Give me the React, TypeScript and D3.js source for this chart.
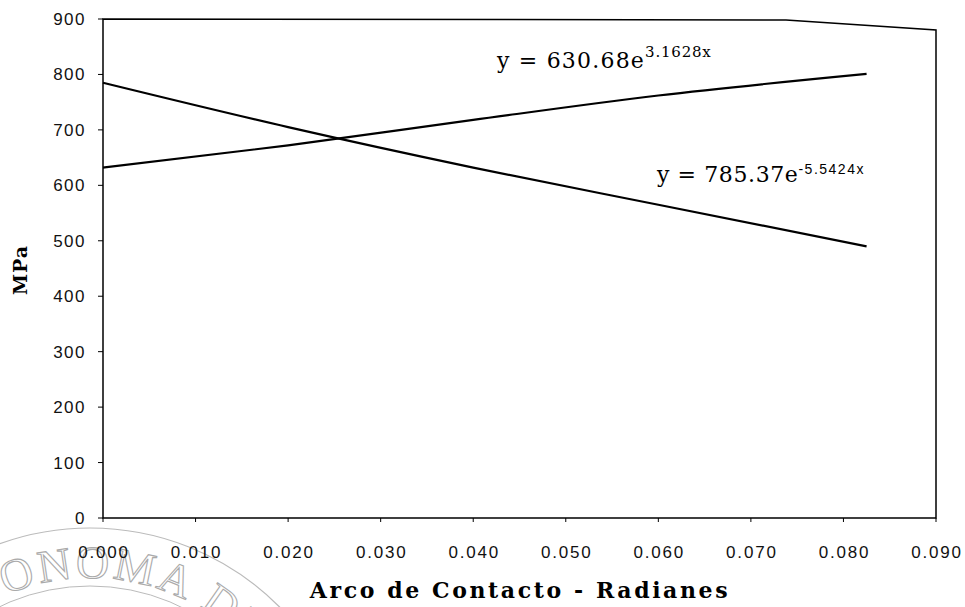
import React from "react";
import * as d3 from "d3";

const xTicks = [0, 0.01, 0.02, 0.03, 0.04, 0.05, 0.06, 0.07, 0.08, 0.09];
const yTicks = [0, 100, 200, 300, 400, 500, 600, 700, 800, 900];
const arcX = [0, 0.02, 0.04, 0.06, 0.0825];
const increasing = [632, 672, 718, 762, 801];
const decreasing = [785, 705, 632, 565, 490];

const W = 965;
const H = 607;
const M = { left: 103, right: 936, top: 19, bottom: 518 };

export default function App() {
  const x = d3.scaleLinear().domain([0, 0.09]).range([M.left, M.right]);
  const y = d3.scaleLinear().domain([0, 900]).range([M.bottom, M.top]);
  const line = d3
    .line<[number, number]>()
    .x((d) => x(d[0]))
    .y((d) => y(d[1]))
    .curve(d3.curveMonotoneX);
  const s1 = arcX.map((v, i) => [v, increasing[i]] as [number, number]);
  const s2 = arcX.map((v, i) => [v, decreasing[i]] as [number, number]);
  const sc = { cx: 90, cy: 795, r: 217 };
  const arcPath = `M ${sc.cx - sc.r} ${sc.cy} A ${sc.r} ${sc.r} 0 0 1 ${sc.cx + sc.r} ${sc.cy}`;
  const tickFont = "Liberation Sans, Arial, sans-serif";
  return (
    <svg
      width={W}
      height={H}
      style={{ position: "absolute", left: 0, top: 0, background: "#fff" }}
    >
      <defs>
        <path id="sealArc" d={arcPath} />
      </defs>
      {/* faint watermark seal */}
      <g fill="none" stroke="#bbb">
        <circle cx={sc.cx} cy={sc.cy} r={sc.r + 50} strokeWidth={1.2} />
        <circle cx={sc.cx} cy={sc.cy} r={sc.r - 8} strokeWidth={1} />
      </g>
      <text
        fontFamily="Liberation Serif, serif"
        fontSize={46}
        fill="none"
        stroke="#aaa"
        strokeWidth={1.1}
        letterSpacing={3}
      >
        <textPath href="#sealArc" startOffset={254}>
          ONOMA DE
        </textPath>
      </text>

      {/* frame */}
      <path
        d={`M ${M.left} ${M.top} L ${M.right - 150} ${M.top + 1} L ${M.right} ${M.top + 11} L ${M.right} ${M.bottom} L ${M.left} ${M.bottom} Z`}
        fill="none"
        stroke="#000"
        strokeWidth={1.5}
      />
      {/* y axis ticks */}
      {yTicks.map((t) => (
        <g key={t}>
          <line x1={M.left - 5} x2={M.left} y1={y(t)} y2={y(t)} stroke="#000" />
          <text
            x={86}
            y={y(t) + 6}
            textAnchor="end"
            fontFamily={tickFont}
            fontSize={17}
            letterSpacing={1.5}
            fill="#111"
          >
            {t}
          </text>
        </g>
      ))}
      {/* x axis ticks */}
      {xTicks.map((t) => (
        <g key={t}>
          <line x1={x(t)} x2={x(t)} y1={M.bottom} y2={M.bottom + 4} stroke="#000" />
          <text
            x={x(t) + 1}
            y={M.bottom + 40}
            textAnchor="middle"
            fontFamily={tickFont}
            fontSize={17}
            letterSpacing={1.8}
            fill="#111"
          >
            {t.toFixed(3)}
          </text>
        </g>
      ))}
      {/* lines */}
      <path d={line(s1) || ""} fill="none" stroke="#000" strokeWidth={2.2} />
      <path d={line(s2) || ""} fill="none" stroke="#000" strokeWidth={2.2} />
      {/* equations */}
      <text
        x={497}
        y={68}
        fontFamily="DejaVu Serif, serif"
        fontSize={22}
        letterSpacing={1.2}
        fill="#000"
      >
        y = 630.68e
        <tspan dy={-11} fontSize={15} letterSpacing={0.8}>
          3.1628x
        </tspan>
      </text>
      <text
        x={657}
        y={182}
        fontFamily="DejaVu Serif, serif"
        fontSize={22}
        letterSpacing={0.6}
        fill="#000"
      >
        y = 785.37e
        <tspan dy={-8} fontSize={14} letterSpacing={1.5} fontFamily={tickFont}>
          -5.5424x
        </tspan>
      </text>
      {/* axis titles */}
      <text
        x={520}
        y={598}
        textAnchor="middle"
        fontFamily="DejaVu Serif, serif"
        fontWeight="bold"
        fontSize={22}
        letterSpacing={2.6}
        fill="#000"
      >
        Arco de Contacto - Radianes
      </text>
      <text
        transform={`translate(27, 270) rotate(-90)`}
        textAnchor="middle"
        fontFamily="DejaVu Serif, serif"
        fontWeight="bold"
        fontSize={19}
        letterSpacing={1}
        fill="#000"
      >
        MPa
      </text>
    </svg>
  );
}
